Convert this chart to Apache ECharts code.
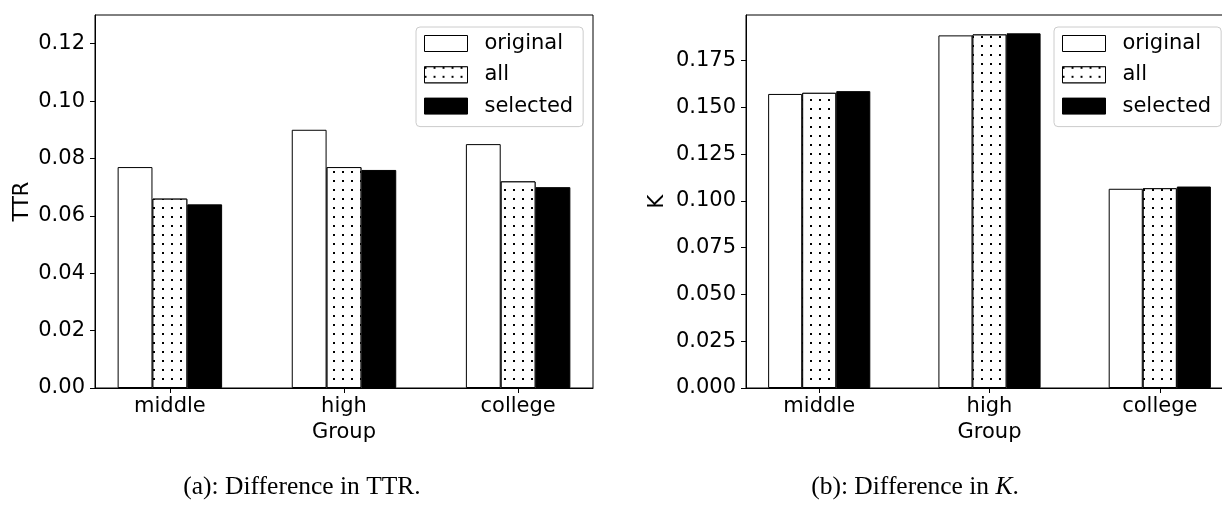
<!DOCTYPE html>
<html>
<head>
<meta charset="utf-8">
<script src="https://cdn.jsdelivr.net/npm/echarts@6/dist/echarts.min.js"></script>
<style>html,body{margin:0;padding:0;background:#fff;}#c{width:1222px;height:514px;}</style>
</head>
<body>
<div id="c"></div>
<script>
const categories = ['middle', 'high', 'college'];
const seriesNames = ['original', 'all', 'selected'];
const ttrOriginal = [0.077, 0.090, 0.085];
const ttrAll = [0.066, 0.077, 0.072];
const ttrSelected = [0.064, 0.076, 0.070];
const kOriginal = [0.1572, 0.1885, 0.1065];
const kAll = [0.1578, 0.1890, 0.1068];
const kSelected = [0.1587, 0.1896, 0.1077];
const ttrTicks = [0, 0.02, 0.04, 0.06, 0.08, 0.10, 0.12];
const kTicks = [0, 0.025, 0.05, 0.075, 0.1, 0.125, 0.15, 0.175];
const captionA = '(a): Difference in TTR.';
const captionB = '(b): Difference in {i|K}.';

const catPos = categories.map((c, i) => i);
const FONT = 'DejaVu Sans';
const FS = 21;

const dotDecal = {
  symbol: 'rect', symbolSize: 1, color: '#000', backgroundColor: '#fff',
  dashArrayX: [1.4, 6.9], dashArrayY: [1.4, 6.9], rotation: 0
};
const styles = [
  { color: '#fff', borderColor: '#000', borderWidth: 1 },
  { color: '#fff', borderColor: '#000', borderWidth: 1, decal: dotDecal },
  { color: '#000', borderColor: '#000', borderWidth: 1 }
];

function mk(vals, idx, gi) {
  return {
    type: 'bar', name: seriesNames[idx], xAxisIndex: gi, yAxisIndex: gi,
    data: vals.map((v, i) => [catPos[i], v]),
    barWidth: '20%', barGap: '0%',
    itemStyle: styles[idx], emphasis: { disabled: true }, animation: false
  };
}

function xAx(gi) {
  return {
    type: 'value', gridIndex: gi, min: -0.43, max: 2.43, position: 'bottom',
    name: 'Group', nameLocation: 'middle', nameGap: 34,
    nameTextStyle: { fontFamily: FONT, fontSize: FS, color: '#000' },
    axisLine: { show: true, onZero: false, lineStyle: { color: '#000', width: 1 } },
    axisTick: { show: true, customValues: catPos, length: 5, lineStyle: { color: '#000', width: 1 } },
    axisLabel: { customValues: catPos, formatter: v => categories[Math.round(v)], margin: 8,
      fontFamily: FONT, fontSize: FS, color: '#000' },
    splitLine: { show: false }
  };
}
function yAx(gi, name, max, ticks, dec, gap) {
  return {
    type: 'value', gridIndex: gi, min: 0, max: max, position: 'left',
    name: name, nameLocation: 'middle', nameGap: gap, nameRotate: 90,
    nameTextStyle: { fontFamily: FONT, fontSize: FS, color: '#000' },
    axisLine: { show: true, onZero: false, lineStyle: { color: '#000', width: 1 } },
    axisTick: { show: true, customValues: ticks, length: 5, lineStyle: { color: '#000', width: 1 } },
    axisLabel: { customValues: ticks, formatter: v => v.toFixed(dec), margin: 10,
      fontFamily: FONT, fontSize: FS, color: '#000' },
    splitLine: { show: false }
  };
}
function legend(left) {
  return {
    orient: 'vertical', left: left, top: 27,
    itemWidth: 43, itemHeight: 16, itemGap: 10.3, padding: [6, 10, 10, 8],
    borderColor: '#ccc', borderWidth: 1, borderRadius: 4, backgroundColor: 'rgba(255,255,255,0.8)',
    icon: 'rect', selectedMode: false,
    textStyle: { fontFamily: FONT, fontSize: FS, color: '#000', padding: [0, 0, 0, 12] },
    data: seriesNames.map((n, i) => ({ name: n, itemStyle: styles[i] }))
  };
}

const chart = echarts.init(document.getElementById('c'), null, { renderer: 'canvas' });
chart.setOption({
  animation: false,
  backgroundColor: '#fff',
  grid: [
    { left: 95, top: 15, width: 498, height: 373, show: true, borderColor: '#000', borderWidth: 1, backgroundColor: 'transparent', outerBoundsMode: 'none' },
    { left: 746, top: 15, width: 487, height: 373, show: true, borderColor: '#000', borderWidth: 1, backgroundColor: 'transparent', outerBoundsMode: 'none' }
  ],
  xAxis: [xAx(0), xAx(1)],
  yAxis: [yAx(0, 'TTR', 0.13, ttrTicks, 2, 62), yAx(1, 'K', 0.1994, kTicks, 3, 78)],
  legend: [legend(416), legend(1054)],
  series: [
    mk(ttrOriginal, 0, 0), mk(ttrAll, 1, 0), mk(ttrSelected, 2, 0),
    mk(kOriginal, 0, 1), mk(kAll, 1, 1), mk(kSelected, 2, 1)
  ],
  graphic: [
    { type: 'text', x: 302, y: 487, style: { text: captionA, x: 0, y: 0, align: 'center', verticalAlign: 'middle',
      fontFamily: 'Liberation Serif', fontSize: 25.5, fill: '#000' } },
    { type: 'text', x: 915, y: 487, style: { text: captionB, x: 0, y: 0, align: 'center', verticalAlign: 'middle',
      fontFamily: 'Liberation Serif', fontSize: 25.5, fill: '#000',
      rich: { i: { fontStyle: 'italic', fontFamily: 'Liberation Serif', fontSize: 25.5 } } } }
  ]
});
</script>
</body>
</html>
